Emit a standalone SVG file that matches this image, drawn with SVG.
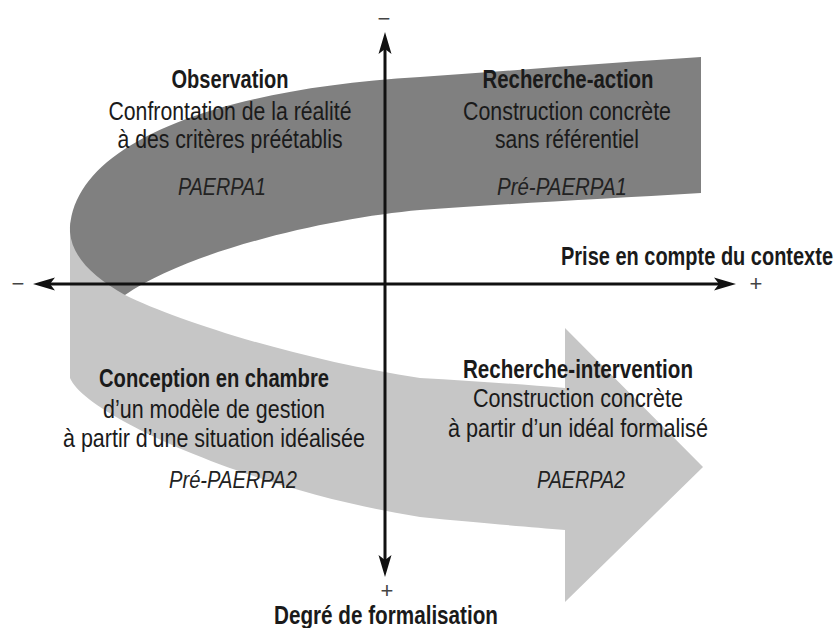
<svg xmlns="http://www.w3.org/2000/svg" width="840" height="628" viewBox="0 0 840 628">
<style>
text{font-family:"Liberation Sans","Arial",sans-serif;fill:#1a1a1a;text-anchor:middle}
.h{font-weight:bold;font-size:25px}
.r{font-size:26px}
.i{font-style:italic;font-size:23px;fill:#222}
.s{font-size:22px;fill:#444}
.ax{stroke:#111;stroke-width:3;fill:none}
</style>
<defs>
<marker id="ah" markerUnits="userSpaceOnUse" markerWidth="24" markerHeight="16" refX="10" refY="7" orient="auto-start-reverse">
<path d="M0,0.5 L22,7 L0,13.5 L5,7 Z" fill="#111"/>
</marker>
</defs>
<rect width="840" height="628" fill="#fff"/>
<g id="bands">
<path id="light-band" fill="#c6c6c6" d="M70,222 L70,378 C85,415 250,490 420,517 C480,523 530,527 565,530 L565,602 L703,467 L565,328 L565,388 C520,384 470,381 420,378 C300,360 180,322 125,295 Z"/>
<path id="dark-band" fill="#808080" d="M701,57 L701,193 C600,199 500,204 420,210 C330,218 190,250 125,295 C95,278 72,258 70,232 C70,150 200,90 420,77 C520,70 620,62 701,57 Z"/>
</g>
<g id="connectors">
<line class="ax" x1="45" y1="284" x2="724" y2="284" marker-start="url(#ah)" marker-end="url(#ah)"/>
<line class="ax" x1="385" y1="44" x2="385" y2="565" marker-start="url(#ah)" marker-end="url(#ah)"/>
</g>
<g id="axis-labels">
<text class="h" transform="translate(833,265) scale(0.8,1)" x="0" y="0" style="text-anchor:end" textLength="340" lengthAdjust="spacingAndGlyphs">Prise en compte du contexte</text>
<text class="h" x="386" y="624" textLength="224" lengthAdjust="spacingAndGlyphs">Degré de formalisation</text>
<text class="s" x="384" y="26">−</text>
<text class="s" x="18" y="291">−</text>
<text class="s" x="756" y="291">+</text>
<text class="s" x="387" y="598">+</text>
</g>
<g id="observation">
<text class="h" x="230" y="88" textLength="117" lengthAdjust="spacingAndGlyphs">Observation</text>
<text class="r" x="230" y="120" textLength="243" lengthAdjust="spacingAndGlyphs">Confrontation de la réalité</text>
<text class="r" x="230" y="148" textLength="225" lengthAdjust="spacingAndGlyphs">à des critères préétablis</text>
<text class="i" x="222" y="195" textLength="88" lengthAdjust="spacingAndGlyphs">PAERPA1</text>
</g>
<g id="recherche-action">
<text class="h" x="568" y="88" textLength="171" lengthAdjust="spacingAndGlyphs">Recherche-action</text>
<text class="r" x="567" y="120" textLength="208" lengthAdjust="spacingAndGlyphs">Construction concrète</text>
<text class="r" x="567" y="148" textLength="144" lengthAdjust="spacingAndGlyphs">sans référentiel</text>
<text class="i" x="562" y="195" textLength="130" lengthAdjust="spacingAndGlyphs">Pré-PAERPA1</text>
</g>
<g id="conception">
<text class="h" x="214" y="387" textLength="230" lengthAdjust="spacingAndGlyphs">Conception en chambre</text>
<text class="r" x="214" y="418" textLength="222" lengthAdjust="spacingAndGlyphs">d’un modèle de gestion</text>
<text class="r" x="214" y="447" textLength="302" lengthAdjust="spacingAndGlyphs">à partir d’une situation idéalisée</text>
<text class="i" x="233" y="488" textLength="128" lengthAdjust="spacingAndGlyphs">Pré-PAERPA2</text>
</g>
<g id="recherche-intervention">
<text class="h" x="578" y="378" textLength="230" lengthAdjust="spacingAndGlyphs">Recherche-intervention</text>
<text class="r" x="578" y="407" textLength="210" lengthAdjust="spacingAndGlyphs">Construction concrète</text>
<text class="r" x="578" y="437" textLength="260" lengthAdjust="spacingAndGlyphs">à partir d’un idéal formalisé</text>
<text class="i" x="581" y="488" textLength="88" lengthAdjust="spacingAndGlyphs">PAERPA2</text>
</g>
</svg>
